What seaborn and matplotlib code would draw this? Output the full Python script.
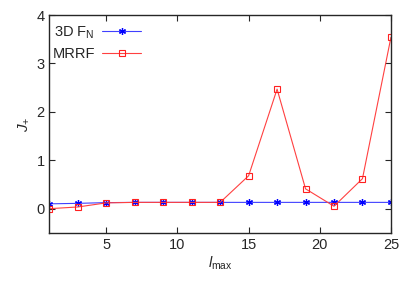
import pandas as pd
import seaborn as sns
import matplotlib.pyplot as plt

# values
l_max = [1, 3, 5, 7, 9, 11, 13, 15, 17, 19, 21, 23, 25]
fn_3d = [0.10, 0.11, 0.125, 0.13, 0.13, 0.13, 0.13, 0.13, 0.13, 0.13, 0.13, 0.13, 0.13]
mrrf = [0.0, 0.035, 0.12, 0.13, 0.13, 0.13, 0.13, 0.68, 2.47, 0.41, 0.05, 0.62, 3.54]
x_ticks = [5, 10, 15, 20, 25]
y_ticks = [0, 1, 2, 3, 4]

df = pd.DataFrame({"lmax": l_max, "fn": fn_3d, "mrrf": mrrf})

sns.set_style("ticks")
plt.rcParams["font.family"] = ["Liberation Sans", "DejaVu Sans"]
plt.rcParams["mathtext.fontset"] = "custom"
plt.rcParams["mathtext.rm"] = "Liberation Sans"
plt.rcParams["mathtext.it"] = "Liberation Sans:italic"

fig = plt.figure(figsize=(4.15, 2.9), dpi=100)
ax = fig.add_axes([0.119, 0.197, 0.823, 0.751])

sns.lineplot(data=df, x="lmax", y="fn", ax=ax, color="#4040ff", lw=0.8,
             marker=(6, 2, 0), markersize=5, markeredgewidth=0.9,
             markeredgecolor="#0000ff", label="3D F$_\\mathrm{N}$")
sns.lineplot(data=df, x="lmax", y="mrrf", ax=ax, color="#ff4040", lw=0.8,
             marker="s", markersize=5, markerfacecolor="none",
             markeredgecolor="#ff2020", markeredgewidth=0.8, label="MRRF")

ax.set_xlim(1, 25)
ax.set_ylim(-0.5, 4)
ax.set_xticks(x_ticks)
ax.set_yticks(y_ticks)
ax.tick_params(direction="in", top=True, right=True, labelsize=10.5, length=4, width=0.8)
for s in ax.spines.values():
    s.set_linewidth(1.0)

ax.set_xlabel("$l_{\\mathrm{max}}$", fontsize=10.5, labelpad=2)
ax.set_ylabel("$J_{+}$", fontsize=11)

ax.legend(loc="upper left", bbox_to_anchor=(0.0, 0.97), frameon=False,
          markerfirst=False, fontsize=10.5, handlelength=2.7,
          borderaxespad=0.0, labelspacing=0.4, handletextpad=0.5, borderpad=0.2)

fig.savefig("out.png", dpi=100)
